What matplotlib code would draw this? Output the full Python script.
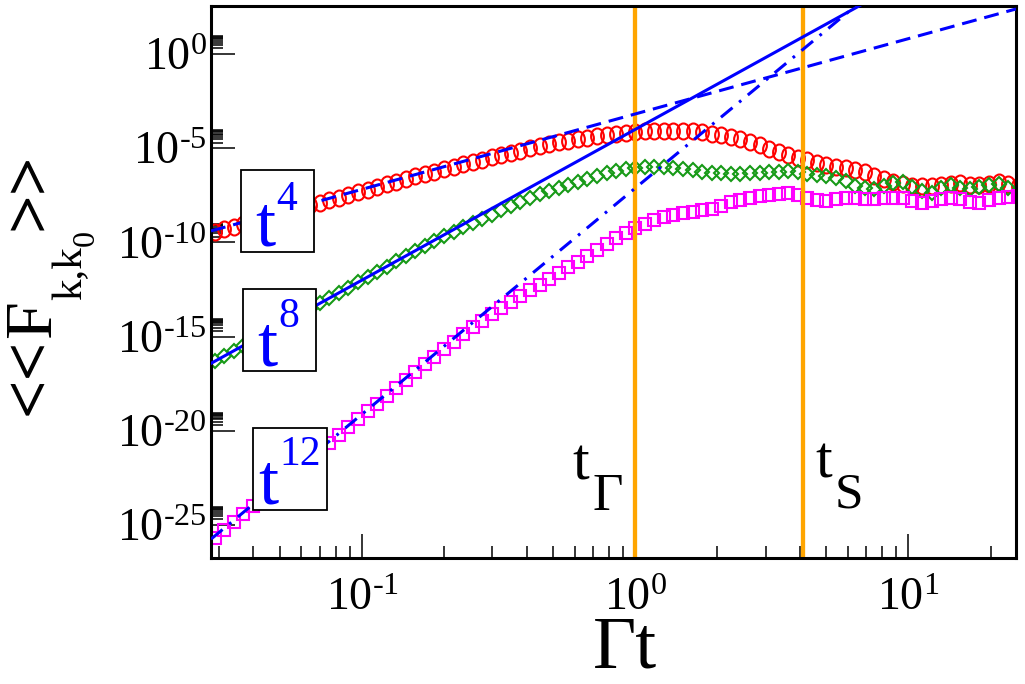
import matplotlib
matplotlib.use("Agg")
import matplotlib.pyplot as plt
from matplotlib.ticker import FixedLocator, FixedFormatter, LogLocator, NullFormatter
from matplotlib.patches import Rectangle
from matplotlib.path import Path
from matplotlib.transforms import Affine2D

plt.rcParams['font.family'] = ['Liberation Serif', 'DejaVu Serif']
plt.rcParams['mathtext.fontset'] = 'custom'
plt.rcParams['mathtext.rm'] = 'Liberation Serif'
plt.rcParams['mathtext.it'] = 'Liberation Serif:italic'
plt.rcParams['mathtext.bf'] = 'Liberation Serif:bold'

# log10(Gamma t) of the samples
log_t = [-1.540, -1.505, -1.470, -1.435, -1.400, -1.365, -1.330, -1.295, -1.260, -1.225,
         -1.190, -1.155, -1.120, -1.085, -1.050, -1.015, -0.980, -0.945, -0.910, -0.875,
         -0.840, -0.805, -0.770, -0.735, -0.700, -0.665, -0.630, -0.595, -0.560, -0.525,
         -0.490, -0.455, -0.420, -0.385, -0.350, -0.315, -0.280, -0.245, -0.210, -0.175,
         -0.140, -0.105, -0.070, -0.035, 0.000, 0.035, 0.070, 0.105, 0.140, 0.175,
         0.210, 0.245, 0.280, 0.315, 0.350, 0.385, 0.420, 0.455, 0.490, 0.525,
         0.560, 0.595, 0.630, 0.665, 0.700, 0.735, 0.770, 0.805, 0.840, 0.875,
         0.910, 0.945, 0.980, 1.015, 1.050, 1.085, 1.120, 1.155, 1.190, 1.225,
         1.260, 1.295, 1.330, 1.365, 1.400]

# log10 <<F>> , red circles
log_red = [-9.44, -9.30, -9.16, -9.02, -8.88, -8.74, -8.60, -8.46, -8.32, -8.18,
           -8.04, -7.90, -7.76, -7.62, -7.48, -7.34, -7.20, -7.06, -6.92, -6.78,
           -6.64, -6.50, -6.37, -6.24, -6.11, -5.98, -5.855, -5.73, -5.61, -5.49,
           -5.37, -5.25, -5.13, -5.01, -4.90, -4.79, -4.69, -4.60, -4.51, -4.43,
           -4.36, -4.29, -4.24, -4.19, -4.15, -4.11, -4.08, -4.06, -4.06, -4.08,
           -4.11, -4.16, -4.23, -4.31, -4.40, -4.52, -4.67, -4.84, -5.03, -5.20,
           -5.36, -5.50, -5.64, -5.76, -5.87, -5.97, -6.06, -6.16, -6.28, -6.45,
           -6.65, -6.80, -6.92, -6.98, -7.03, -7.02, -6.97, -6.88, -6.86, -6.95,
           -6.96, -6.88, -6.80, -6.88, -7.02]

# green diamonds
log_green = [-16.32, -16.04, -15.76, -15.48, -15.20, -14.92, -14.64, -14.36, -14.08, -13.80,
             -13.52, -13.24, -12.96, -12.68, -12.40, -12.12, -11.84, -11.56, -11.28, -11.00,
             -10.72, -10.45, -10.18, -9.92, -9.67, -9.43, -9.20, -8.98, -8.75, -8.52,
             -8.29, -8.06, -7.84, -7.64, -7.45, -7.27, -7.10, -6.94, -6.80, -6.64,
             -6.48, -6.34, -6.21, -6.11, -6.04, -5.99, -5.97, -5.98, -6.03, -6.10,
             -6.18, -6.25, -6.30, -6.33, -6.35, -6.35, -6.33, -6.30, -6.27, -6.24,
             -6.22, -6.27, -6.35, -6.40, -6.46, -6.56, -6.75, -7.00, -7.12, -7.18,
             -6.98, -6.82, -6.80, -7.05, -7.28, -7.38, -7.10, -6.95, -7.12, -7.18,
             -7.06, -6.95, -6.88, -7.10, -7.28]

# magenta squares
log_magenta = [-25.70, -25.28, -24.86, -24.44, -24.02, -23.60, -23.18, -22.76, -22.34, -21.92,
               -21.50, -21.08, -20.66, -20.24, -19.82, -19.40, -18.98, -18.56, -18.14, -17.72,
               -17.30, -16.88, -16.47, -16.06, -15.67, -15.27, -14.88, -14.51, -14.16, -13.82,
               -13.48, -13.16, -12.86, -12.55, -12.24, -11.93, -11.63, -11.33, -11.02, -10.72,
               -10.42, -10.10, -9.78, -9.50, -9.24, -9.00, -8.80, -8.64, -8.52, -8.42,
               -8.36, -8.30, -8.22, -8.06, -7.88, -7.74, -7.64, -7.56, -7.50, -7.44,
               -7.40, -7.50, -7.62, -7.74, -7.78, -7.72, -7.66, -7.66, -7.70, -7.72,
               -7.66, -7.62, -7.64, -7.82, -7.90, -7.80, -7.70, -7.64, -7.68, -7.84,
               -7.90, -7.76, -7.62, -7.60, -7.54]

# power-law guides A * t**n
guide_pow = [4, 8, 12]
guide_log_amp = [-3.18, -4.0, -7.12]
guide_label = ['4', '8', '12']

t_gamma = 1.0
t_s = 4.1

x_lim = (10 ** -1.553, 10 ** 1.394)
y_lim = (10 ** -26.76, 10 ** 2.57)
y_major_exp = [0, -5, -10, -15, -20, -25]
x_major_exp = [-1, 0, 1]

W, H = 1025, 684
fig = plt.figure(figsize=(W / 100, H / 100), dpi=100)
ax = fig.add_axes([211 / W, 1 - 558 / H, 805 / W, 552.3 / H])


def fp(px, py):
    # pixel (from top-left) -> figure fraction
    return px / W, 1 - py / H


t = [10 ** v for v in log_t]
ellipse = Path.unit_circle().transformed(Affine2D().scale(0.8, 1.0))
ax.plot(t, [10 ** v for v in log_red], ls='none', marker=ellipse, ms=11.5,
        mfc='none', mec='#ff0000', mew=1.5, zorder=2)
ax.plot(t, [10 ** v for v in log_green], ls='none', marker='D', ms=7.2,
        mfc='none', mec='#179a17', mew=1.5, zorder=2)
ax.plot(t, [10 ** v for v in log_magenta], ls='none', marker='s', ms=9.3,
        mfc='none', mec='#ff00ff', mew=1.5, zorder=2)

ax.axvline(t_gamma, color='#ffa500', lw=3.1, zorder=2.5)
ax.axvline(t_s, color='#ffa500', lw=3.1, zorder=2.5)

styles = [(0, (4.9, 2.6)), '-', (0, (4.9, 2.8, 0.9, 2.8))]
for n, la, st in zip(guide_pow, guide_log_amp, styles):
    gx = list(x_lim)
    gy = [10 ** la * v ** n for v in gx]
    ax.plot(gx, gy, color='#0000ff', lw=2.2, ls=st, dash_capstyle='butt', zorder=3)

ax.set_xscale('log')
ax.set_yscale('log')
ax.set_xlim(*x_lim)
ax.set_ylim(*y_lim)

hy = '\u2010'
ax.yaxis.set_major_locator(FixedLocator([10.0 ** e for e in y_major_exp]))
ax.yaxis.set_major_formatter(FixedFormatter(
    [r'$10^{%s}$' % (str(e).replace('-', hy)) for e in y_major_exp]))
ax.yaxis.set_minor_locator(FixedLocator(
    [m * 10.0 ** e for e in y_major_exp for m in range(2, 10)]))
ax.yaxis.set_minor_formatter(NullFormatter())
ax.xaxis.set_major_locator(FixedLocator([10.0 ** e for e in x_major_exp]))
ax.xaxis.set_major_formatter(FixedFormatter(
    [r'$10^{%s}$' % (str(e).replace('-', hy)) for e in x_major_exp]))
ax.xaxis.set_minor_locator(LogLocator(base=10, subs=range(2, 10), numticks=20))
ax.xaxis.set_minor_formatter(NullFormatter())

ax.tick_params(which='both', direction='in', top=False, right=False, width=1.1,
               labelsize=33)
ax.tick_params(which='major', length=17)
ax.tick_params(which='minor', length=8.5)
ax.tick_params(axis='x', which='major', pad=14)
ax.tick_params(axis='y', which='major', pad=3)
for sp in ax.spines.values():
    sp.set_linewidth(2.2)

# boxed power-law labels
boxes = [(241, 170, 314, 252), (243, 289, 316, 371), (253, 428, 327, 510)]
t_pos = [(255, 245), (257, 366), (258, 503)]
sup_pos = [(276, 210), (278, 327), (279, 465)]
for (x0, y0, x1, y1), tp, sp, lab in zip(boxes, t_pos, sup_pos, guide_label):
    bx, by = fp(x0, y1)
    rect = Rectangle((bx, by), (x1 - x0) / W, (y1 - y0) / H, transform=fig.transFigure,
                     facecolor='white', edgecolor='black', lw=1.3, zorder=5)
    fig.patches.append(rect)
    fig.text(*fp(*tp), 't', fontsize=52, color='#0000ff', ha='left', va='baseline', zorder=6)
    fig.text(*fp(*sp), lab, fontsize=30, color='#0000ff', ha='left', va='baseline', zorder=6)

# time markers
fig.text(*fp(572, 480), 't', fontsize=43, ha='left', va='baseline')
fig.text(*fp(592, 510), '\u0393', fontsize=38, ha='left', va='baseline')
fig.text(*fp(815, 477), 't', fontsize=43, ha='left', va='baseline')
fig.text(*fp(835, 507), 'S', fontsize=37, ha='left', va='baseline')

# axis labels
fig.text(*fp(625, 668), '\u0393t', fontsize=54, ha='center', va='baseline')

renderer = fig.canvas.get_renderer()
cursor = H - 415
pieces = [('<<', 49, 'bold', 48), ('F', 49, 'normal', 50), ('k,k', 31, 'normal', 81),
          ('0', 23, 'normal', 94), ('>>', 49, 'bold', 48)]
for s, size, weight, base in pieces:
    txt = fig.text(base / W, cursor / H, s, fontsize=size, fontweight=weight,
                   rotation=90, rotation_mode='anchor', ha='left', va='baseline')
    bb = txt.get_window_extent(renderer)
    cursor = bb.y1

fig.savefig('out.png', dpi=100)
